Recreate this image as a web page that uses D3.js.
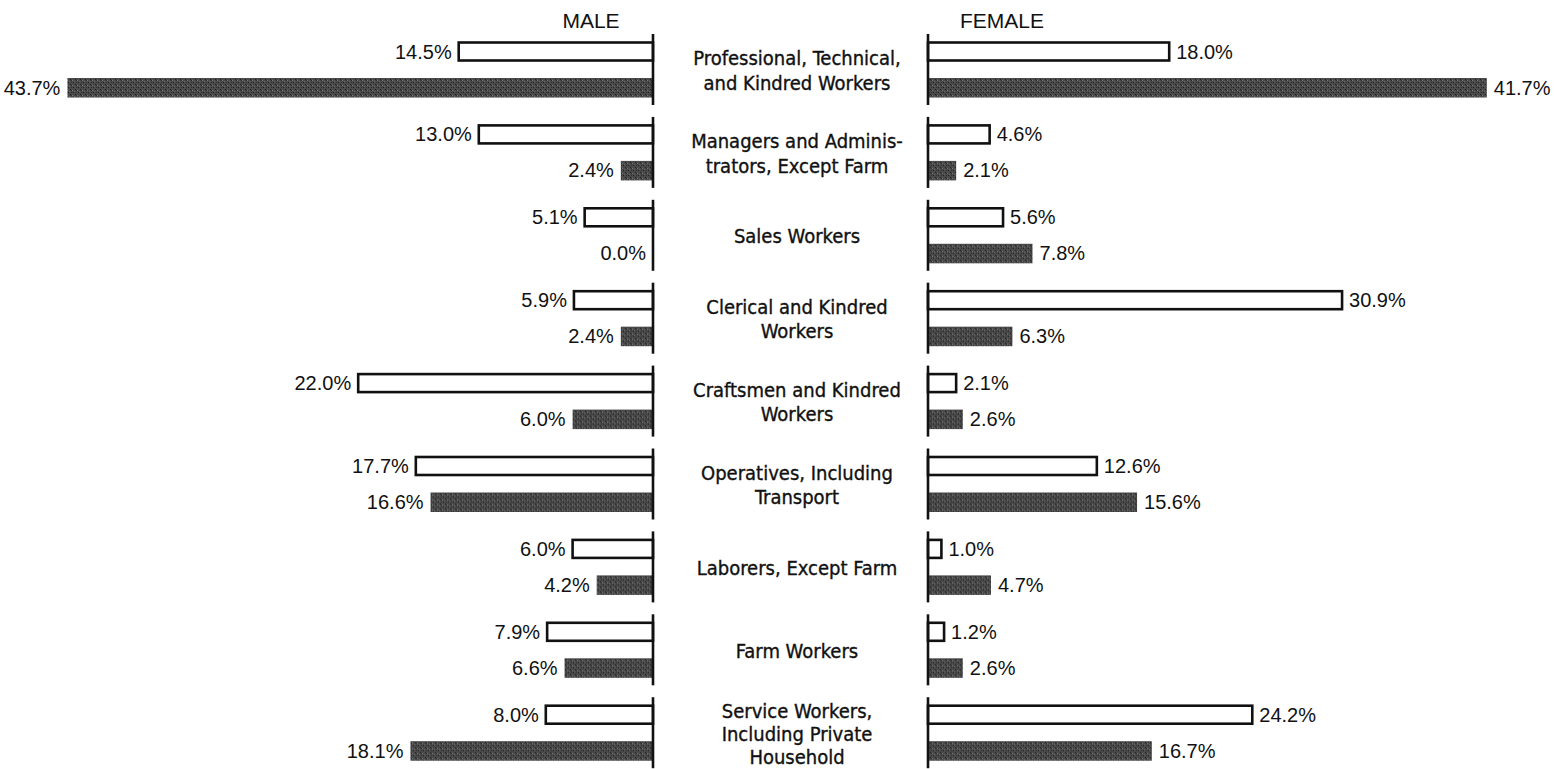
<!DOCTYPE html>
<html><head><meta charset="utf-8">
<script src="https://cdn.jsdelivr.net/npm/d3@7"></script>
<style>
html,body{margin:0;padding:0;background:#fff;}
svg{display:block;}
</style></head>
<body>
<svg id="chart" width="1559" height="769"></svg>
<script>
const categories = [
  ["Professional, Technical,", "and Kindred Workers"],
  ["Managers and Adminis-", "trators, Except Farm"],
  ["Sales Workers"],
  ["Clerical and Kindred", "Workers"],
  ["Craftsmen and Kindred", "Workers"],
  ["Operatives, Including", "Transport"],
  ["Laborers, Except Farm"],
  ["Farm Workers"],
  ["Service Workers,", "Including Private", "Household"]
];
const maleOpen    = [14.5, 13.0, 5.1, 5.9, 22.0, 17.7, 6.0, 7.9, 8.0];
const maleShaded  = [43.7, 2.4, 0.0, 2.4, 6.0, 16.6, 4.2, 6.6, 18.1];
const femaleOpen  = [18.0, 4.6, 5.6, 30.9, 2.1, 12.6, 1.0, 1.2, 24.2];
const femaleShaded= [41.7, 2.1, 7.8, 6.3, 2.6, 15.6, 4.7, 2.6, 16.7];
const panelTitles = ["MALE", "FEMALE"];
const seriesKeys = ["open", "shaded"];

const svg = d3.select("#chart");

// stipple pattern for shaded bars (fixed, non-random tile)
const defs = svg.append("defs");
const pat = defs.append("pattern").attr("id", "stipple").attr("patternUnits", "userSpaceOnUse")
  .attr("width", 5).attr("height", 5);
pat.append("rect").attr("width", 5).attr("height", 5).attr("fill", "#4a4a4a");
[[0,0,"#1e1e1e"],[2,1,"#7a7a7a"],[3,3,"#1e1e1e"],[1,3,"#333"],[4,2,"#666"],[1,1,"#2a2a2a"]]
  .forEach(([x,y,c]) => pat.append("rect").attr("x", x).attr("y", y).attr("width", 1).attr("height", 1).attr("fill", c));

const pxPerPct = 13.4;
const maleAxisX = 653, femaleAxisX = 928;
const xMale = d3.scaleLinear().domain([0, 45]).range([maleAxisX, maleAxisX - 45 * pxPerPct]);
const xFemale = d3.scaleLinear().domain([0, 45]).range([femaleAxisX, femaleAxisX + 45 * pxPerPct]);

const step = 82.9;
const idx = d3.range(categories.length);
const yGroup = d3.scaleBand().domain(idx).range([34, 34 + step * categories.length]).padding(0);
const groupH = 71;
const barH = 18;
const ySub = d3.scaleOrdinal().domain(seriesKeys).range([8.5, 44.5]);

const fmt = v => v.toFixed(1) + "%";
const valFont = "'Liberation Sans', Arial, sans-serif";

// Titles
svg.append("text").attr("x", 591).attr("y", 28).attr("text-anchor", "middle")
  .style("font-family", valFont).style("font-size", "21px").attr("fill", "#111")
  .text(panelTitles[0]);
svg.append("text").attr("x", 1002).attr("y", 28).attr("text-anchor", "middle")
  .style("font-family", valFont).style("font-size", "21px").attr("fill", "#111")
  .text(panelTitles[1]);

const groups = svg.selectAll("g.grp").data(idx).join("g")
  .attr("class", "grp")
  .attr("transform", i => `translate(0,${yGroup(i)})`);

function drawSide(g, i, x, openVals, shadedVals, dir) {
  const base = x(0);
  [["open", openVals[i]], ["shaded", shadedVals[i]]].forEach(([k, v]) => {
    const y = ySub(k);
    const x0 = Math.min(x(0), x(v)), w = Math.abs(x(v) - x(0));
    if (w > 0) {
      if (k === "open") {
        g.append("rect")
          .attr("x", x0).attr("y", y).attr("width", w).attr("height", barH)
          .attr("fill", "#fff").attr("stroke", "#111").attr("stroke-width", 2.6);
      } else {
        g.append("rect")
          .attr("x", x0).attr("y", y - 0.5).attr("width", w).attr("height", barH + 1.5)
          .attr("fill", "url(#stipple)");
      }
    }
    const lx = dir < 0 ? x(v) - 7 : x(v) + 7;
    g.append("text")
      .attr("x", lx).attr("y", y + barH / 2 + 7)
      .attr("text-anchor", dir < 0 ? "end" : "start")
      .style("font-family", valFont)
      .style("font-size", "20px").attr("fill", "#111")
      .text(fmt(v));
  });
  g.append("line").attr("x1", base).attr("x2", base).attr("y1", 0).attr("y2", groupH)
    .attr("stroke", "#111").attr("stroke-width", 2.6);
}

groups.each(function(i) {
  const g = d3.select(this);
  drawSide(g, i, xMale, maleOpen, maleShaded, -1);
  drawSide(g, i, xFemale, femaleOpen, femaleShaded, 1);
  const lines = categories[i];
  const lh = lines.length === 3 ? 23 : 24.5;
  const cy = groupH / 2 + 1;
  const t = g.append("text").attr("text-anchor", "middle")
    .style("font-family", "'DejaVu Sans', sans-serif")
    .style("font-stretch", "condensed")
    .style("font-size", "20px").attr("fill", "#111")
    .attr("stroke", "#111").attr("stroke-width", 0.35);
  lines.forEach((ln, j) => {
    t.append("tspan").attr("x", 797)
      .attr("y", cy + (j - (lines.length - 1) / 2) * lh + 7)
      .text(ln);
  });
});
</script>
</body></html>
